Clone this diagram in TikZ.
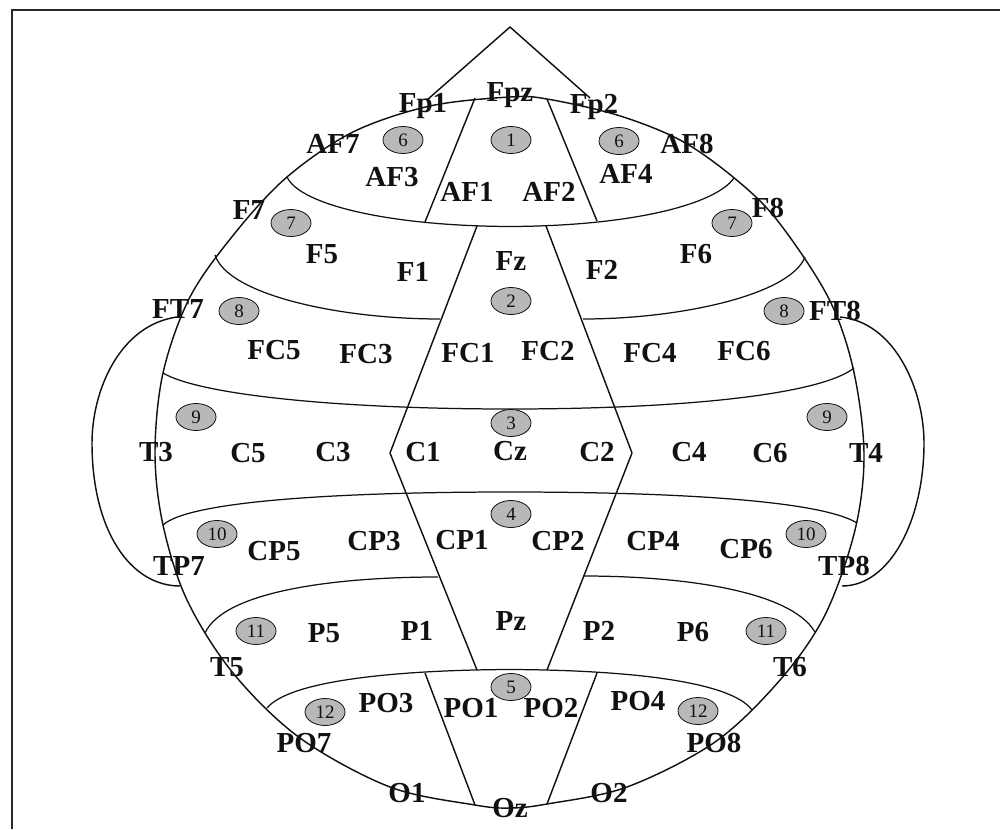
\documentclass[tikz,border=0pt]{standalone}
\usepackage{fontspec}
\setmainfont{Liberation Serif}
\usetikzlibrary{shapes.geometric}
\definecolor{FigureInk}{HTML}{111111}
\definecolor{ZoneFill}{gray}{0.72}
\tikzset{
  figure/.style={x=0.5pt,y=-0.5pt,text=FigureInk},
  frameline/.style={draw=FigureInk!90!white,line width=1.3pt},
  outline/.style={draw=FigureInk,line width=0.72pt,line join=round},
  divider/.style={draw=FigureInk,line width=0.62pt},
  electrode/.style={font=\fontsize{14.5}{14.5}\bfseries\selectfont,inner sep=0pt},
  zone/.style={ellipse,draw=FigureInk,line width=0.4pt,fill=ZoneFill,minimum width=20pt,
    minimum height=13.5pt,inner sep=0pt,font=\fontsize{9.5}{9.5}\selectfont},
}

\begin{document}
\begin{tikzpicture}[figure]
  \useasboundingbox (0,0) rectangle (1000,829);

  % frame
  \draw[frameline] (12,829) -- (12,10) -- (1000,10);

  % head and nose
  \draw[outline] plot[smooth cycle,tension=0.55] coordinates {(510,97) (430,106) (353,132) (287,177)
    (235,233) (190,297) (163,373) (155,453) (163,525) (187,600) (233,673) (300,738) (390,787) (475,805)
    (510,808) (547,804) (627,787) (715,742) (780,680) (825,615) (855,530) (864,453) (853,368) (828,297)
    (777,220) (733,177) (680,140) (617,115) (547,99)};
  \draw[outline] (427,100) -- (510,27) -- (590,98);

  % ears
  \draw[outline] (177,317) .. controls (120,325) and (92,390) .. (92,443)
    .. controls (92,530) and (130,586) .. (180,586);
  \draw[outline] (840,317) .. controls (895,322) and (924,390) .. (924,443)
    .. controls (924,520) and (890,586) .. (842,586);

  % bands
  \draw[divider] (287,177) .. controls (300,205) and (390,226) .. (510,226.5)
    .. controls (630,226) and (715,205) .. (734,178);
  \draw[divider] (215,255) .. controls (228,295) and (340,319) .. (440,319);
  \draw[divider] (583,319) .. controls (680,319) and (790,295) .. (805,257);
  \draw[divider] (163,373) .. controls (200,395) and (340,409) .. (510,409)
    .. controls (680,409) and (820,395) .. (854,368);
  \draw[divider] (163,525) .. controls (190,500) and (350,492) .. (510,492)
    .. controls (670,492) and (820,500) .. (857,523);
  \draw[divider] (205,633) .. controls (225,590) and (340,577) .. (438,577);
  \draw[divider] (583,576) .. controls (680,576) and (790,590) .. (815,632);
  \draw[divider] (267,708) .. controls (290,680) and (400,670) .. (510,669.5)
    .. controls (620,670) and (730,680) .. (752,710);

  % central strips
  \draw[outline] (475,98) -- (425,222);
  \draw[outline] (547,99) -- (597,221);
  \draw[outline] (477,226) -- (390,453) -- (477,670);
  \draw[outline] (546,226) -- (632,453) -- (547,670);
  \draw[outline] (425,673) -- (475,805);
  \draw[outline] (597,673) -- (547,804);

  % zones
  \node[zone] (zone6L) at (403,140) {6};
  \node[zone] (zone1) at (511,140) {1};
  \node[zone] (zone6R) at (619,141) {6};
  \node[zone] (zone7L) at (291,223) {7};
  \node[zone] (zone7R) at (732,223) {7};
  \node[zone] (zone2) at (511,301) {2};
  \node[zone] (zone8L) at (239,311) {8};
  \node[zone] (zone8R) at (784,311) {8};
  \node[zone] (zone3) at (511,423) {3};
  \node[zone] (zone9L) at (196,417) {9};
  \node[zone] (zone9R) at (827,417) {9};
  \node[zone] (zone4) at (511,514) {4};
  \node[zone] (zone10L) at (217,534) {10};
  \node[zone] (zone10R) at (806,534) {10};
  \node[zone] (zone11L) at (256,631) {11};
  \node[zone] (zone11R) at (766,631) {11};
  \node[zone] (zone5) at (511,687) {5};
  \node[zone] (zone12L) at (325,712) {12};
  \node[zone] (zone12R) at (698,711) {12};

  % electrodes
  \node[electrode] (Fp1) at (423,106) {Fp1};
  \node[electrode] (Fpz) at (510,95) {Fpz};
  \node[electrode] (Fp2) at (594,107) {Fp2};
  \node[electrode] (AF7) at (333,144) {AF7};
  \node[electrode] (AF8) at (687,144) {AF8};
  \node[electrode] (AF3) at (392,177) {AF3};
  \node[electrode] (AF1) at (467,192) {AF1};
  \node[electrode] (AF2) at (549,192) {AF2};
  \node[electrode] (AF4) at (626,174) {AF4};
  \node[electrode] (F7) at (249,210) {F7};
  \node[electrode] (F8) at (768,208) {F8};
  \node[electrode] (F5) at (322,254) {F5};
  \node[electrode] (F1) at (413,272) {F1};
  \node[electrode] (Fz) at (511,261) {Fz};
  \node[electrode] (F2) at (602,270) {F2};
  \node[electrode] (F6) at (696,254) {F6};
  \node[electrode] (FT7) at (178,309) {FT7};
  \node[electrode] (FT8) at (835,311) {FT8};
  \node[electrode] (FC5) at (274,350) {FC5};
  \node[electrode] (FC3) at (366,354) {FC3};
  \node[electrode] (FC1) at (468,353) {FC1};
  \node[electrode] (FC2) at (548,351) {FC2};
  \node[electrode] (FC4) at (650,353) {FC4};
  \node[electrode] (FC6) at (744,351) {FC6};
  \node[electrode] (T3) at (156,452) {T3};
  \node[electrode] (C5) at (248,453) {C5};
  \node[electrode] (C3) at (333,452) {C3};
  \node[electrode] (C1) at (423,452) {C1};
  \node[electrode] (Cz) at (510,451) {Cz};
  \node[electrode] (C2) at (597,452) {C2};
  \node[electrode] (C4) at (689,452) {C4};
  \node[electrode] (C6) at (770,453) {C6};
  \node[electrode] (T4) at (866,453) {T4};
  \node[electrode] (CP5) at (274,551) {CP5};
  \node[electrode] (CP3) at (374,541) {CP3};
  \node[electrode] (CP1) at (462,540) {CP1};
  \node[electrode] (CP2) at (558,541) {CP2};
  \node[electrode] (CP4) at (653,541) {CP4};
  \node[electrode] (CP6) at (746,549) {CP6};
  \node[electrode] (TP7) at (179,566) {TP7};
  \node[electrode] (TP8) at (844,566) {TP8};
  \node[electrode] (P5) at (324,633) {P5};
  \node[electrode] (P1) at (417,631) {P1};
  \node[electrode] (Pz) at (511,621) {Pz};
  \node[electrode] (P2) at (599,631) {P2};
  \node[electrode] (P6) at (693,632) {P6};
  \node[electrode] (T5) at (227,667) {T5};
  \node[electrode] (T6) at (790,667) {T6};
  \node[electrode] (PO3) at (386,703) {PO3};
  \node[electrode] (PO1) at (471,708) {PO1};
  \node[electrode] (PO2) at (551,708) {PO2};
  \node[electrode] (PO4) at (638,701) {PO4};
  \node[electrode] (PO7) at (304,743) {PO7};
  \node[electrode] (PO8) at (714,743) {PO8};
  \node[electrode] (O1) at (407,793) {O1};
  \node[electrode] (Oz) at (510,808) {Oz};
  \node[electrode] (O2) at (609,793) {O2};
\end{tikzpicture}
\end{document}
